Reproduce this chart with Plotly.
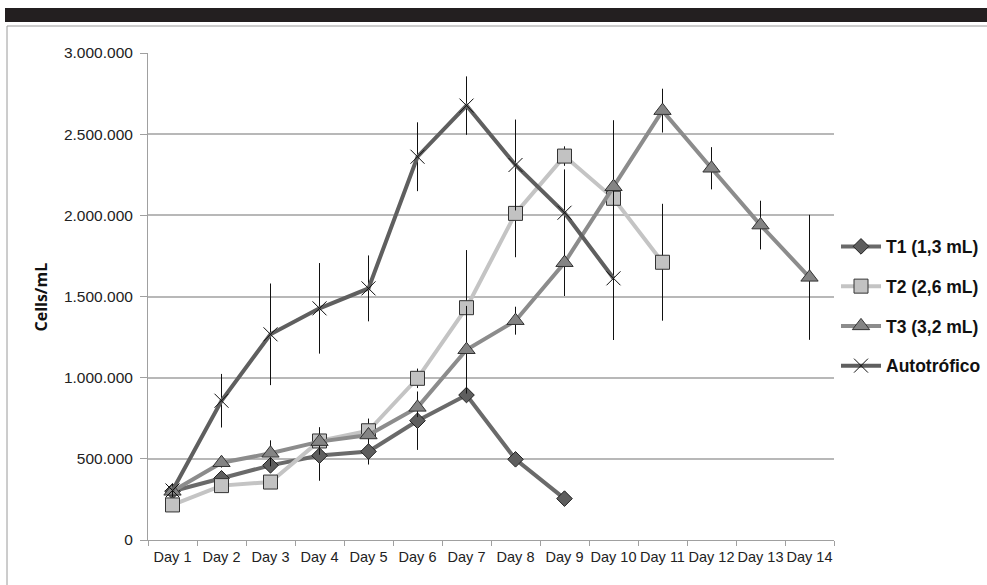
import plotly.graph_objects as go

days = [f"Day {i}" for i in range(1, 15)]

t1_vals = [300000, 380000, 460000, 520000, 545000, 735000, 893000, 497000, 255000]
t1_err = [30000, 30000, 40000, 155000, 80000, 180000, 0, 0, 0]

t2_vals = [216000, 335000, 357000, 610000, 673000, 996000, 1431000, 2012000, 2365000, 2105000, 1711000]
t2_err = [30000, 40000, 40000, 85000, 75000, 60000, 355000, 270000, 60000, 60000, 360000]

t3_vals = [300000, 476000, 534000, 606000, 647000, 817000, 1172000, 1351000, 1708000,
           2176000, 2645000, 2290000, 1940000, 1618000]
t3_err = [30000, 30000, 80000, 40000, 40000, 60000, 270000, 86000, 205000,
          410000, 135000, 130000, 150000, 385000]

auto_vals = [305000, 858000, 1267000, 1427000, 1550000, 2361000, 2676000, 2310000, 2016000, 1612000]
auto_err = [40000, 165000, 313000, 279000, 203000, 212000, 180000, 280000, 267000, 380000]

names = ["T1 (1,3 mL)", "T2 (2,6 mL)", "T3 (3,2 mL)", "Autotrófico"]

FONT = "Liberation Sans, Arial, sans-serif"
BOLD = "Open Sans, sans-serif"

fig = go.Figure()

def add(name, vals, err, lcolor, symbol, mfill, msize, mline, group):
    fig.add_trace(go.Scatter(
        x=days[:len(vals)], y=vals, name=name, mode="lines+markers",
        legendgroup=group,
        line=dict(color=lcolor, width=4),
        marker=dict(symbol=symbol, size=msize, color=mfill,
                    line=dict(color=mline, width=1)),
        error_y=dict(type="data", array=err, visible=True, width=0,
                     thickness=1, color="#111111"),
    ))

add(names[0], t1_vals, t1_err, "#6a6a6a", "diamond", "#5e5e5e", 12, "#222222", "a")
add(names[1], t2_vals, t2_err, "#c4c4c4", "square", "#c2c2c2", 14, "#333333", "b")
add(names[2], t3_vals, t3_err, "#8c8c8c", "triangle-up", "#848484", 15, "#333333", "c")
add(names[3], auto_vals, auto_err, "#5f5f5f", "x-thin", "#111111", 14, "#111111", "d")

L, T, W, H = 148, 53, 686, 487

def px(x):
    return (x - L) / W

def py(y):
    return (T + H - y) / H

shapes = [
    dict(type="rect", xref="paper", yref="paper", x0=px(5), x1=px(995), y0=py(22), y1=py(8),
         fillcolor="#231f20", line=dict(width=0), layer="below"),
    dict(type="rect", xref="paper", yref="paper", x0=px(7), x1=px(1000), y0=py(620), y1=py(26),
         fillcolor="rgba(0,0,0,0)", line=dict(color="#9a9a9a", width=1), layer="below"),
]

annotations = [
    dict(text="<b>Cells/mL</b>", xref="paper", yref="paper", x=px(40), y=0.5,
         xanchor="center", yanchor="middle", textangle=-90, showarrow=False,
         font=dict(family=BOLD, size=16, color="#111111")),
]

fig.update_layout(
    width=987, height=585,
    margin=dict(l=L, r=987 - L - W, t=T, b=585 - T - H, autoexpand=False),
    paper_bgcolor="white", plot_bgcolor="white",
    separators=",.",
    font=dict(family=FONT, size=14, color="#222222"),
    showlegend=True,
    legend=dict(x=px(836), y=py(306), xanchor="left", yanchor="middle",
                font=dict(family="Liberation Sans, Arial, sans-serif", size=17.5,
                          color="#111111", weight="bold"),
                tracegroupgap=14, itemsizing="trace", itemwidth=40),
    shapes=shapes,
    annotations=annotations,
    xaxis=dict(type="category", categoryorder="array", categoryarray=days,
               range=[-0.5, 13.5], showgrid=False, showline=True, linecolor="#a0a0a0",
               linewidth=1, ticks="outside", tickson="boundaries", ticklen=5,
               tickcolor="#a0a0a0", tickangle=0, automargin=False, ticklabelstandoff=4,
               tickfont=dict(size=14.5, family=FONT, color="#222222"), zeroline=False),
    yaxis=dict(range=[0, 3000000], tickvals=[0, 500000, 1000000, 1500000, 2000000, 2500000, 3000000],
               tickformat=",d", showgrid=True, gridcolor="#b8b8b8", gridwidth=1.5,
               showline=True, linecolor="#a0a0a0", ticks="outside", ticklen=7,
               tickcolor="#a0a0a0", automargin=False, ticklabelstandoff=4,
               tickfont=dict(size=15.5, family=FONT, color="#222222"), zeroline=False),
)

fig.write_html("out.html", config={"displayModeBar": False},
               post_script="document.body.style.margin='0';document.body.style.overflow='hidden';")
